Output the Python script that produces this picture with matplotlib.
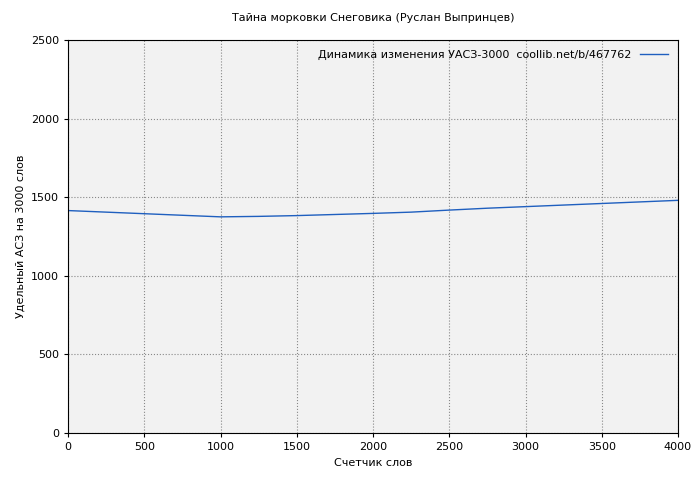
import matplotlib
matplotlib.use("Agg")
import matplotlib.pyplot as plt

# word counter vs specific ASZ value
words = [0, 250, 500, 750, 1000, 1250, 1500, 1750, 2000, 2250, 2500, 2750, 3000, 3250, 3500, 3750, 4000]
asz = [1415, 1405, 1395, 1385, 1375, 1378, 1383, 1390, 1397, 1405, 1418, 1430, 1440, 1450, 1460, 1470, 1480]

title = "Тайна морковки Снеговика (Руслан Выпринцев)"
legend_label = "Динамика изменения УАСЗ-3000  coollib.net/b/467762"

fig = plt.figure(figsize=(7, 4.8), dpi=100)
ax = fig.add_axes([68 / 700, 47 / 480, 610 / 700, 393 / 480])
ax.set_facecolor("#f2f2f2")
ax.plot(words, asz, color="#1f5fbf", linewidth=1, label=legend_label)
ax.set_xlim(0, 4000)
ax.set_ylim(0, 2500)
ax.set_xticks(range(0, 4001, 500))
ax.set_yticks(range(0, 2501, 500))
ax.grid(True, linestyle=":", color="#888888", linewidth=0.8)
ax.tick_params(direction="out", labelsize=8, length=3)
ax.set_xlabel("Счетчик слов", fontsize=8)
ax.set_ylabel("Удельный АСЗ на 3000 слов", fontsize=8)
ax.set_title(title, fontsize=8, pad=14)
ax.legend(loc="upper right", fontsize=8, frameon=False, markerfirst=False, handlelength=2.5)

fig.savefig("out.png", dpi=100)
